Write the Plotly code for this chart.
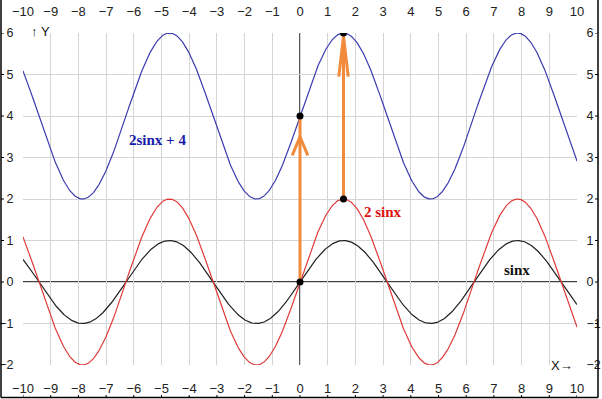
import numpy as np
import plotly.graph_objects as go

# ---- data ----
x_ticks = list(range(-10, 11))
y_ticks = list(range(-2, 7))
curve_names = ["sinx", "2 sinx", "2sinx + 4"]
curve_amp = [1, 2, 2]
curve_off = [0, 0, 4]
curve_colors = ["#202020", "#e03a3a", "#3b3bb0"]
label_x = [7.85, 3.0, -5.15]
label_y = [0.3, 1.68, 3.42]
label_colors = ["#111111", "#dd1111", "#1a1aa8"]
pt_x = [0, 0, np.pi / 2, np.pi / 2]
pt_y = [0, 4, 2, 6]
arrow_x0 = [0, np.pi / 2]
arrow_y0 = [0, 2]
arrow_y1 = [4, 6]
head_tip = [3.5, 5.92]
head_base = [3.05, 4.95]
head_half = [0.28, 0.17]

xs = np.linspace(-10, 10, 801)

fig = go.Figure()
for a, o, c in zip(curve_amp, curve_off, curve_colors):
    fig.add_trace(go.Scatter(x=xs, y=a * np.sin(xs) + o, mode="lines",
                             line=dict(color=c, width=1.2), hoverinfo="skip"))

ORANGE = "#f28a3c"
for x0, y0, y1, tip, base, hw in zip(arrow_x0, arrow_y0, arrow_y1, head_tip, head_base, head_half):
    fig.add_trace(go.Scatter(x=[x0, x0], y=[y0, y1], mode="lines",
                             line=dict(color=ORANGE, width=3), hoverinfo="skip"))
    fig.add_trace(go.Scatter(x=[x0 - hw, x0, x0 + hw], y=[base, tip, base], mode="lines",
                             line=dict(color=ORANGE, width=3), hoverinfo="skip"))

fig.add_trace(go.Scatter(x=pt_x, y=pt_y, mode="markers",
                         marker=dict(color="black", size=7), hoverinfo="skip"))

# dummy traces for the top and right axes
fig.add_trace(go.Scatter(x=[-10, 10], y=[0, 0], xaxis="x2", mode="lines",
                         line=dict(width=0), hoverinfo="skip", showlegend=False))
fig.add_trace(go.Scatter(x=[0, 0], y=[-2, 6], yaxis="y2", mode="lines",
                         line=dict(width=0), hoverinfo="skip", showlegend=False))

for t, xx, yy, c in zip(curve_names, label_x, label_y, label_colors):
    fig.add_annotation(x=xx, y=yy, text=f"<b>{t}</b>", showarrow=False,
                       font=dict(family="Liberation Serif", size=15, color=c))

fig.add_annotation(xref="paper", yref="paper", x=0.0, y=1.0, yshift=11, xshift=6,
                   text="↑ Y", showarrow=False, xanchor="left",
                   font=dict(family="Liberation Sans", size=13, color="#111"))
fig.add_annotation(xref="paper", yref="paper", x=1.0, y=0.0, yshift=-10, xshift=-2,
                   text="X→", showarrow=False, xanchor="right",
                   font=dict(family="Liberation Sans", size=13, color="#111"))

W, H = 602, 399
L, R, T, B = 23, 25, 33, 34
pw, ph = W - L - R, H - T - B

def px_to_paper_x(p):
    return (p - L) / pw

def px_to_paper_y(p):
    return (H - B - p) / ph

shapes = []
# axes through origin (between grid and traces)
shapes.append(dict(type="line", xref="x", yref="paper", x0=0, x1=0, y0=0, y1=1,
                   layer="between", line=dict(color="black", width=1.3)))
shapes.append(dict(type="line", xref="paper", yref="y", x0=0, x1=1, y0=0, y1=0,
                   layer="between", line=dict(color="black", width=1.3)))
# outer frame (left, right, bottom) with small ticks
xl, xr = px_to_paper_x(1), px_to_paper_x(598)
yb = px_to_paper_y(397.5)
shapes.append(dict(type="line", xref="paper", yref="paper", x0=xl, x1=xl,
                   y0=yb, y1=px_to_paper_y(0), line=dict(color="black", width=1.5)))
shapes.append(dict(type="line", xref="paper", yref="paper", x0=xr, x1=xr,
                   y0=yb, y1=px_to_paper_y(0), line=dict(color="black", width=1.5)))
shapes.append(dict(type="line", xref="paper", yref="paper", x0=xl, x1=xr,
                   y0=yb, y1=yb, line=dict(color="black", width=1.5)))
for yv in y_ticks:
    shapes.append(dict(type="line", xref="paper", yref="y", x0=xl, x1=px_to_paper_x(4),
                       y0=yv, y1=yv, line=dict(color="black", width=1)))
    shapes.append(dict(type="line", xref="paper", yref="y", x0=px_to_paper_x(595), x1=xr,
                       y0=yv, y1=yv, line=dict(color="black", width=1)))
for xv in x_ticks:
    shapes.append(dict(type="line", xref="x", yref="paper", x0=xv, x1=xv,
                       y0=yb, y1=px_to_paper_y(395), line=dict(color="black", width=1)))

tickfont = dict(family="Liberation Sans", size=13, color="#222")
ytickfont = dict(family="Liberation Sans", size=12.5, color="#222")
common_x = dict(range=[-10, 10], tickvals=x_ticks, zeroline=False, ticks="outside",
                ticklen=11, tickcolor="rgba(0,0,0,0)", tickfont=tickfont,
                showline=False, automargin=False, fixedrange=True)
common_y = dict(range=[-2, 6], tickvals=y_ticks, zeroline=False, ticks="outside",
                ticklen=6, tickcolor="rgba(0,0,0,0)", tickfont=ytickfont,
                showline=False, automargin=False, fixedrange=True)
fig.update_layout(
    width=W, height=H,
    margin=dict(l=L, r=R, t=T, b=B, autoexpand=False),
    paper_bgcolor="white", plot_bgcolor="white",
    showlegend=False,
    shapes=shapes,
    xaxis=dict(**common_x, showgrid=True, gridcolor="#d4d4d4", gridwidth=1),
    xaxis2=dict(**common_x, overlaying="x", side="top", showgrid=False, anchor="y"),
    yaxis=dict(**common_y, showgrid=True, gridcolor="#d4d4d4", gridwidth=1),
    yaxis2=dict(**common_y, overlaying="y", side="right", showgrid=False, anchor="x"),
)

fig.write_html("out.html", config={"displayModeBar": False},
               post_script="document.body.style.margin='0';")
